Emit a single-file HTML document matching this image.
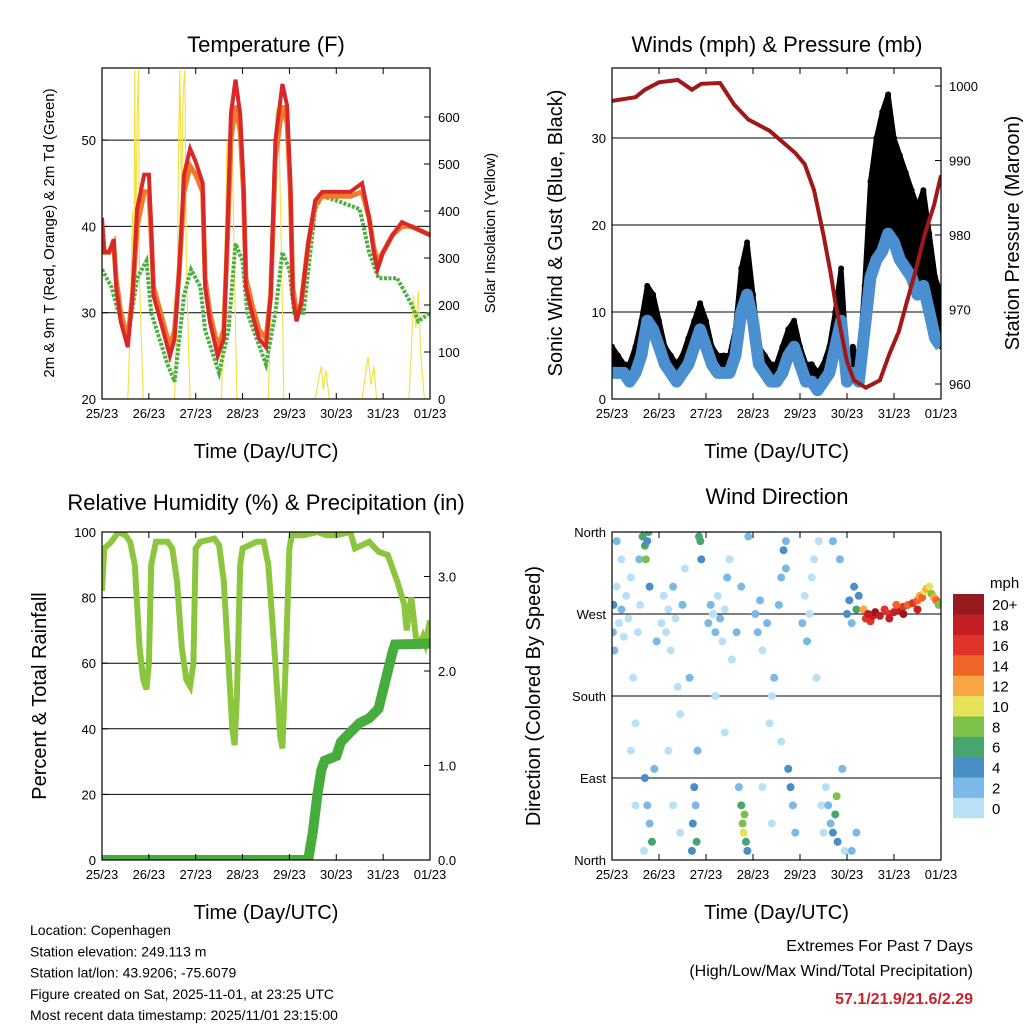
<!DOCTYPE html>
<html><head><meta charset="utf-8">
<style>
html,body{margin:0;padding:0;background:#fff}
svg{display:block;font-family:"Liberation Sans",sans-serif}
</style></head>
<body>
<svg id="chart" width="1024" height="1024" viewBox="0 0 1024 1024"></svg>
<script>
// ---------- Data ----------
const dayLabels = ["25/23","26/23","27/23","28/23","29/23","30/23","31/23","01/23"];
const tempDays = [0,0.05,0.15,0.25,0.3,0.4,0.5,0.55,0.65,0.75,0.9,1.0,1.05,1.1,1.25,1.45,1.55,1.65,1.75,1.88,2.0,2.15,2.2,2.3,2.47,2.6,2.68,2.75,2.85,2.95,3.02,3.07,3.2,3.35,3.5,3.6,3.7,3.85,3.95,4.02,4.07,4.15,4.25,4.4,4.55,4.7,5.0,5.3,5.55,5.7,5.8,5.88,6.0,6.2,6.4,6.6,7.0];
const temp2m = [41,37,37,38.5,33,29,27,26,32,42,46,46,40,32,29,25,27,35,46,49,47.5,45,33,29,25,27,40,53,57,53,45,33,30,27,26,32,50,56.5,54,45,32,29,31,38,43,44,44,44,45,41,37,35,37,39,40.5,40,39];
const temp9m = [40,37,37,38,34,30,28,27,32,40,44,44,39,33,30,26,28,35,44,47,46,44,34,30,26,28,39,50,54,51,44,34,31,28,27,32,48,54,52,44,33,30,31,38,42.5,43.5,43.5,43.5,44,41,37.5,36,37,39,40,40,39];
const dewDays = [0,0.2,0.35,0.55,0.75,0.95,1.05,1.4,1.55,1.75,1.9,2.1,2.2,2.5,2.7,2.85,3.0,3.1,3.5,3.7,3.85,4.0,4.1,4.3,4.55,4.7,5.0,5.5,5.7,5.9,6.3,6.6,6.75,7.0];
const dewpt = [35,33,30,27,34,36,30,24,22,32,35,33,28,23,28,38,36,30,24,30,37,35,30,30,42,43.5,43,42,37,34,34,31,29,30];
const solarDays = [0,0.55,0.6,0.65,0.68,0.7,0.72,0.75,0.78,0.8,0.85,0.88,1.55,1.6,1.63,1.66,1.7,1.73,1.77,1.8,1.85,1.88,2.55,2.62,2.67,2.72,2.77,2.82,2.88,3.55,3.6,3.66,3.72,3.78,3.85,3.88,4.55,4.62,4.68,4.72,4.78,4.85,5.55,5.62,5.68,5.74,5.8,5.86,6.55,6.6,6.65,6.7,6.75,6.8,6.88,7.0];
const solar = [0,0,150,400,200,700,300,600,700,250,100,0,0,200,500,700,400,650,700,300,100,0,0,300,550,450,620,300,0,0,200,500,620,560,200,0,0,40,70,20,60,0,0,50,90,30,70,0,0,100,220,150,230,100,0,0];

const pressDays = [0,0.5,0.7,1.0,1.4,1.7,1.9,2.3,2.6,2.9,3.35,3.9,4.1,4.3,4.5,4.65,4.75,5.0,5.15,5.4,5.7,5.9,6.1,6.25,6.45,6.65,6.85,7.0];
const pressure = [998,998.5,999.5,1000.5,1000.8,999.5,1000.3,1000.4,997.5,995.5,994,991,989.5,986,980,975,971,963,960.5,959.5,960.5,964,967,970.5,975,980,984,988];
const windDays = [0,0.125,0.25,0.375,0.5,0.625,0.75,0.875,1,1.125,1.25,1.375,1.5,1.625,1.75,1.875,2,2.125,2.25,2.375,2.5,2.625,2.75,2.875,3,3.125,3.25,3.375,3.5,3.625,3.75,3.875,4,4.125,4.25,4.375,4.5,4.625,4.75,4.875,5,5.125,5.25,5.375,5.5,5.625,5.75,5.875,6,6.125,6.25,6.375,6.5,6.625,6.75,6.875,7];
const windAvg = [3,3,3,2,3,5,9,8,6,4,3,2,3,4,6,8,6,4,3,3,3,5,10,12,9,4,3,2,2,3,5,6,4,2,2,1,2,3,6,9,2,3,2,8,14,16,17,19,18,16,15,14,12,13,10,7,6];
const windGust = [6,5,4,4,6,9,13,12,9,6,5,4,5,7,9,11,9,6,5,5,5,8,15,18,12,6,5,4,4,6,8,9,6,4,4,3,4,6,10,15,4,6,4,13,25,30,33,35,30,28,26,24,22,24,19,14,12];

const rhDays = [0,0.05,0.2,0.35,0.5,0.6,0.7,0.8,0.88,0.95,1.0,1.05,1.15,1.4,1.5,1.6,1.7,1.8,1.88,1.95,2.0,2.1,2.4,2.5,2.6,2.7,2.78,2.83,2.88,2.95,3.0,3.3,3.45,3.55,3.7,3.8,3.85,3.92,4.0,4.05,4.3,4.6,4.8,5.0,5.3,5.4,5.7,5.9,6.1,6.3,6.45,6.5,6.6,6.7,6.8,6.85,6.9,7.0];
const rhVals = [82,95,97,100,99,97,90,65,55,52,60,90,97,97,95,85,65,55,53,60,95,97,98,96,85,60,40,35,50,90,95,97,97,90,60,38,34,60,95,99,99,100,99,99,100,95,97,94,93,85,78,70,80,68,66,68,66,73];
const precipDays = [0,4.4,4.5,4.6,4.68,4.75,5.0,5.1,5.3,5.5,5.7,5.9,6.05,6.2,6.25,7.0];
const precipVals = [0,0,0.3,0.7,0.95,1.05,1.1,1.25,1.35,1.45,1.5,1.6,1.9,2.2,2.28,2.29];

const dirDay = [0.02,0.03,0.05,0.1,0.15,0.2,0.25,0.3,0.35,0.4,0.45,0.5,0.55,0.58,0.1,0.2,0.4,0.5,
0.65,0.7,0.72,0.75,0.78,0.8,0.7,0.75,0.8,0.85,0.9,0.95,0.68,0.6,
1.05,1.1,1.15,1.2,1.25,1.3,1.35,1.4,1.45,1.5,1.55,1.2,1.3,1.45,
1.7,1.72,1.75,1.78,1.8,1.85,1.88,1.9,1.82,1.65,
2.05,2.1,2.15,2.2,2.25,2.3,2.35,2.4,2.45,2.5,2.55,2.2,2.4,
2.7,2.75,2.78,2.8,2.82,2.85,2.88,2.9,2.75,2.65,
3.05,3.1,3.15,3.2,3.3,3.35,3.4,3.45,3.2,3.4,
3.55,3.6,3.65,3.7,3.75,3.8,3.85,3.9,3.7,3.6,
4.05,4.1,4.15,4.2,4.25,4.3,4.35,4.4,4.45,4.5,4.55,
4.6,4.65,4.7,4.75,4.78,4.8,4.85,4.9,4.95,4.7,
5.0,5.05,5.1,5.15,5.2,5.25,5.1,5.2,
5.35,5.4,5.45,5.5,5.55,5.6,5.7,5.8,5.9,6.0,6.1,6.2,6.3,6.4,6.5,6.55,6.6,6.65,6.7,6.75,6.8,6.85,6.9,6.95,6.5,6.2,5.9,6.05];
const dirDeg = [250,280,230,300,260,275,245,290,265,310,200,150,250,330,350,330,120,60,
355,345,330,350,360,300,90,60,40,20,100,240,10,280,
260,290,250,275,230,300,265,190,160,280,320,120,60,30,
10,40,80,60,20,355,350,330,120,200,
260,280,270,250,290,265,240,275,310,330,220,180,140,
80,60,40,30,50,20,10,355,300,250,
270,250,285,230,260,150,180,200,80,40,
280,310,340,320,100,80,60,30,350,130,
260,290,240,270,310,330,200,350,60,30,80,
60,40,30,50,70,20,330,100,10,350,
270,285,260,300,275,290,10,30,
275,265,270,262,268,272,268,275,270,272,275,278,280,282,285,290,288,295,298,300,292,288,285,280,275,270,265,280];
const dirSpd = [3,4,3,1,1,2,1,0,1,0,1,0,1,2,3,1,0,1,
6,7,8,5,6,4,4,3,2,6,3,2,1,1,
1,0,1,1,0,2,1,1,0,2,1,0,1,0,
4,4,5,3,6,7,6,4,3,2,
2,2,1,2,1,2,1,1,2,1,1,0,1,
3,6,9,10,8,6,4,3,2,2,
2,3,2,1,2,1,0,2,1,1,
2,3,4,3,4,5,3,2,2,1,
2,1,2,1,0,1,1,0,1,0,1,
2,3,5,7,8,4,3,2,1,2,
4,4,3,5,6,4,2,3,
12,16,18,17,19,20,18,16,17,19,18,16,14,17,15,12,14,11,12,10,9,13,14,8,19,20,18,15];
const speedColors = ["#b8e1f7","#7ab8e6","#4a8ec8","#47a56e","#7cc14a","#e6e157","#f9a744","#f26529","#e2332a","#c41e25","#961a1e"];
const speedLabels = ["0","2","4","6","8","10","12","14","16","18","20+"];

// ---------- helpers ----------
const NS="http://www.w3.org/2000/svg";
const svg=document.getElementById('chart');
function el(tag,attrs,parent){const e=document.createElementNS(NS,tag);for(const k in attrs)e.setAttribute(k,attrs[k]);(parent||svg).appendChild(e);return e;}
function txt(s,x,y,size,anchor,parent,extra){const t=el('text',Object.assign({x:x,y:y,'font-size':size,'text-anchor':anchor||'middle',fill:'#000'},extra||{}),parent);t.textContent=s;return t;}
function pts(xs,ys,fx,fy){return xs.map((d,i)=>fx(d).toFixed(1)+','+fy(ys[i]).toFixed(1)).join(' ');}

const P1={x0:102,x1:430,y0:68,y1:399};
const P2={x0:612,x1:941,y0:68,y1:399};
const P3={x0:102,x1:430,y0:532,y1:860};
const P4={x0:612,x1:941,y0:532,y1:860};
function xS(P){return d=>P.x0+d*(P.x1-P.x0)/7;}

function frame(P,name,id){
  const cp=el('clipPath',{id:id});
  el('rect',{x:P.x0,y:P.y0,width:P.x1-P.x0,height:P.y1-P.y0},cp);
  const g=el('g',{});
  
  
  return g;
}
function border(P,g){
  const r=el('rect',{x:P.x0,y:P.y0,width:P.x1-P.x0,height:P.y1-P.y0,fill:'none',stroke:'#000','stroke-width':1.2},g);
  
  
}
function xAxis(P,g){
  const fx=xS(P);
  dayLabels.forEach((l,i)=>{
    const x=fx(i);
    el('line',{x1:x,x2:x,y1:P.y1,y2:P.y1-6,stroke:'#000'},g);
    el('line',{x1:x,x2:x,y1:P.y0,y2:P.y0+6,stroke:'#000'},g);
    const t=txt(l,x,P.y1+19,13,'middle',g);
    
    
  });
  const t=txt('Time (Day/UTC)',(P.x0+P.x1)/2,P.y1+59,20,'middle',g);
  
  
}
function yTicks(P,g,vals,fy,side,labels,grid){
  vals.forEach((v,i)=>{
    const y=fy(v);
    if(grid && y>P.y0+2 && y<P.y1-2) el('line',{x1:P.x0,x2:P.x1,y1:y,y2:y,stroke:'#000','stroke-width':1},g);
    if(side==='l'){el('line',{x1:P.x0,x2:P.x0+6,y1:y,y2:y,stroke:'#000'},g);
      const t=txt(labels[i],P.x0-6,y+5,13,'end',g);
      
      }
    else{el('line',{x1:P.x1,x2:P.x1-6,y1:y,y2:y,stroke:'#000'},g);
      const t=txt(labels[i],P.x1+8,y+5,13,'start',g);
      
      }
  });
}
function rotLabel(s,x,y,size,g,name){
  const t=txt(s,x,y,size,'middle',g,{transform:'rotate(-90 '+x+' '+y+')'});
  
  
}
function title(s,x,y,g){const t=txt(s,x,y,22,'middle',g);
  
  }

// ---------- Panel 1: Temperature ----------
(function(){
  const P=P1,g=frame(P,'temperature-panel','c1'),fx=xS(P);
  const fy=v=>P.y1-(v-20)*8.63, fs=v=>P.y1-v*0.47;
  yTicks(P,g,[20,30,40,50],fy,'l',['20','30','40','50'],true);
  yTicks(P,g,[0,100,200,300,400,500,600],fs,'r',['0','100','200','300','400','500','600'],false);
  const c=el('g',{'clip-path':'url(#c1)'},g);
  const s=el('polyline',{points:pts(solarDays,solar,fx,fs),fill:'none',stroke:'#f2e24a','stroke-width':1.2},c);
  
  
  const d=el('polyline',{points:pts(dewDays,dewpt,fx,fy),fill:'none',stroke:'#4caf3f','stroke-width':4,'stroke-dasharray':'3 1.5'},c);
  
  
  const o=el('polyline',{points:pts(tempDays,temp9m,fx,fy),fill:'none',stroke:'#f07a2a','stroke-width':5},c);
  
  
  const r=el('polyline',{points:pts(tempDays,temp2m,fx,fy),fill:'none',stroke:'#d8282a','stroke-width':4},c);
  
  
  border(P,g);xAxis(P,g);
  title('Temperature (F)',266,52,g);
  rotLabel('2m & 9m T (Red, Orange) & 2m Td (Green)',54,233,15,g,'y-axis-title');
  rotLabel('Solar Insolation (Yellow)',495,233,15,g,'y2-axis-title');
})();

// ---------- Panel 2: Winds & Pressure ----------
(function(){
  const P=P2,g=frame(P,'winds-pressure-panel','c2'),fx=xS(P);
  const fy=v=>P.y1-v*8.7, fp=v=>384-(v-960)*7.45;
  yTicks(P,g,[0,10,20,30],fy,'l',['0','10','20','30'],true);
  yTicks(P,g,[960,970,980,990,1000],fp,'r',['960','970','980','990','1000'],false);
  const c=el('g',{'clip-path':'url(#c2)'},g);
  const upper=windDays.map((d,i)=>fx(d).toFixed(1)+','+fy(windGust[i]).toFixed(1));
  const lower=windDays.map((d,i)=>fx(d).toFixed(1)+','+fy(windAvg[i]).toFixed(1)).reverse();
  const gb=el('polygon',{points:upper.concat(lower).join(' '),fill:'#000',stroke:'#000','stroke-width':5,'stroke-linejoin':'round'},c);
  
  
  windDays.forEach((d,i)=>{
    const dot=el('circle',{cx:fx(d),cy:fy(windGust[i]),r:3,fill:'#000'},c);
    
    
  });
  const wl=el('polyline',{points:pts(windDays,windAvg,fx,fy),fill:'none',stroke:'#4a8fcf','stroke-width':12,'stroke-linejoin':'round'},c);
  
  
  const pl=el('polyline',{points:pts(pressDays,pressure,fx,fp),fill:'none',stroke:'#a01818','stroke-width':4},c);
  
  
  border(P,g);xAxis(P,g);
  title('Winds (mph) & Pressure (mb)',777,52,g);
  rotLabel('Sonic Wind & Gust (Blue, Black)',562,233,20,g,'y-axis-title');
  rotLabel('Station Pressure (Maroon)',1019,233,20,g,'y2-axis-title');
})();

// ---------- Panel 3: RH & Precip ----------
(function(){
  const P=P3,g=frame(P,'humidity-precip-panel','c3'),fx=xS(P);
  const fy=v=>P.y1-v*3.28, fp=v=>P.y1-v*94.5;
  yTicks(P,g,[0,20,40,60,80,100],fy,'l',['0','20','40','60','80','100'],true);
  yTicks(P,g,[0,1,2,3],fp,'r',['0.0','1.0','2.0','3.0'],false);
  const c=el('g',{'clip-path':'url(#c3)'},g);
  const r=el('polyline',{points:pts(rhDays,rhVals,fx,fy),fill:'none',stroke:'#8cc63f','stroke-width':6},c);
  
  
  const p=el('polyline',{points:pts(precipDays,precipVals,fx,fp),fill:'none',stroke:'#46ad3c','stroke-width':10},c);
  
  
  border(P,g);xAxis(P,g);
  title('Relative Humidity (%) & Precipitation (in)',266,510,g);
  rotLabel('Percent & Total Rainfall',46,696,20,g,'y-axis-title');
})();

// ---------- Panel 4: Wind direction ----------
(function(){
  const P=P4,g=frame(P,'wind-direction-panel','c4'),fx=xS(P);
  const fy=v=>P.y1-v*328/360;
  yTicks(P,g,[0,90,180,270,360],fy,'l',['North','East','South','West','North'],true);
  [0,90,180,270,360].forEach(v=>el('line',{x1:P.x1,x2:P.x1-6,y1:fy(v),y2:fy(v),stroke:'#000'},g));
  const c=el('g',{'clip-path':'url(#c4)'},g);
  dirDay.forEach((d,i)=>{
    const idx=Math.min(10,Math.floor(dirSpd[i]/2));
    const dot=el('circle',{cx:fx(d),cy:fy(dirDeg[i]),r:4,fill:speedColors[idx]},c);
    
    
  });
  border(P,g);xAxis(P,g);
  title('Wind Direction',777,504,g);
  rotLabel('Direction (Colored By Speed)',540,696,20,g,'y-axis-title');
  const lg=el('g',{});
  
  
  const bh=224/11;
  speedColors.forEach((col,i)=>{
    const y=818-(i+1)*bh;
    const b=el('rect',{x:953,y:y,width:31,height:bh+0.3,fill:col},lg);
    
    
    const t=txt(speedLabels[i],992,y+bh/2+6,15,'start',lg);
    
    
  });
  const m=txt('mph',990,588,15,'start',lg);
  
  
})();

// ---------- Footer ----------
const info=["Location: Copenhagen","Station elevation: 249.113 m","Station lat/lon: 43.9206; -75.6079","Figure created on Sat, 2025-11-01, at 23:25 UTC","Most recent data timestamp: 2025/11/01 23:15:00"];
info.forEach((s,i)=>{const t=txt(s,30,935+i*21.3,14,'start');
  
  });
let t1=txt('Extremes For Past 7 Days',973,951,16,'end');


let t2=txt('(High/Low/Max Wind/Total Precipitation)',973,976,16,'end');


let t3=txt('57.1/21.9/21.6/2.29',973,1004,16,'end',null,{fill:'#cc2229','font-weight':'bold'});


</script>
</body></html>
